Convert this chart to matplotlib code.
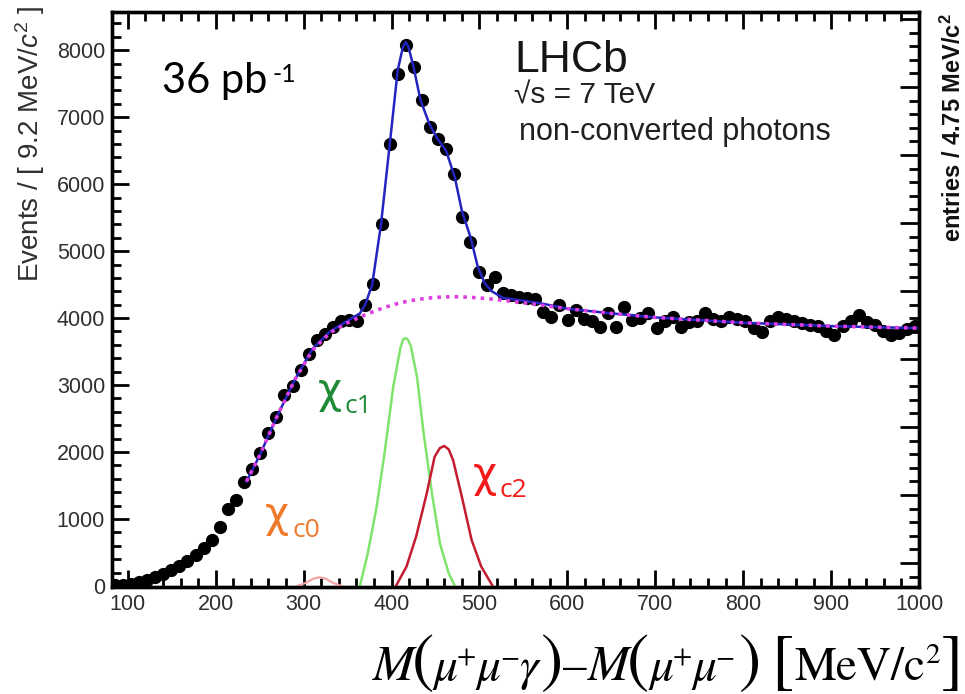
import matplotlib
matplotlib.use("Agg")
import matplotlib.pyplot as plt
from matplotlib.ticker import MultipleLocator, NullFormatter
from matplotlib.transforms import IdentityTransform

plt.rcParams['font.family'] = ['Liberation Sans', 'DejaVu Sans']
plt.rcParams['mathtext.fontset'] = 'custom'
plt.rcParams['mathtext.rm'] = 'Liberation Sans'
plt.rcParams['mathtext.it'] = 'Liberation Sans:italic'
plt.rcParams['mathtext.bf'] = 'Liberation Sans:bold'

# ---------------- data ----------------
bin_centers = [85.0, 94.2, 103.4, 112.6, 121.8, 131.0, 140.2, 149.4, 158.6, 167.8,
               177.0, 186.2, 195.4, 204.6, 213.8, 223.0, 232.2, 241.4, 250.6, 259.8,
               269.0, 278.2, 287.4, 296.6, 305.8, 315.0, 324.2, 333.4, 342.6, 351.8,
               361.0, 370.2, 379.4, 388.6, 397.8, 407.0, 416.2, 425.4, 434.6, 443.8,
               453.0, 462.2, 471.4, 480.6, 489.8, 499.0, 508.2, 517.4, 526.6, 535.8,
               545.0, 554.2, 563.4, 572.6, 581.8, 591.0, 600.2, 609.4, 618.6, 627.8,
               637.0, 646.2, 655.4, 664.6, 673.8, 683.0, 692.2, 701.4, 710.6, 719.8,
               729.0, 738.2, 747.4, 756.6, 765.8, 775.0, 784.2, 793.4, 802.6, 811.8,
               821.0, 830.2, 839.4, 848.6, 857.8, 867.0, 876.2, 885.4, 894.6, 903.8,
               913.0, 922.2, 931.4, 940.6, 949.8, 959.0, 968.2, 977.4, 986.6, 995.8]
events = [10, 20, 35, 60, 95, 135, 185, 240, 300, 375,
          460, 560, 690, 880, 1150, 1280, 1550, 1750, 1980, 2280,
          2530, 2850, 2980, 3230, 3470, 3680, 3760, 3870, 3950, 3970,
          3950, 4190, 4510, 5410, 6600, 7650, 8075, 7750, 7250, 6860,
          6680, 6530, 6150, 5510, 5140, 4690, 4500, 4610, 4370, 4340,
          4320, 4300, 4290, 4090, 4020, 4190, 3970, 4120, 3990, 3950,
          3870, 4070, 3870, 4170, 3970, 4000, 4070, 3850, 3950, 4020,
          3870, 3940, 3950, 4070, 3990, 3960, 4020, 3980, 3950, 3850,
          3790, 3960, 4020, 3980, 3950, 3920, 3900, 3880, 3800, 3750,
          3880, 3960, 4050, 3940, 3900, 3800, 3750, 3780, 3830, 3880]

total_x = [235, 250, 270, 290, 310, 330, 350, 364, 370, 378, 388, 398, 407, 413, 416,
           419, 425, 433, 443, 452, 462, 472, 480, 490, 498, 506, 514, 527, 545, 570,
           600, 650, 700, 750, 800, 850, 900, 950, 1000]
total_y = [1560, 1950, 2540, 3080, 3540, 3800, 3960, 4070, 4200, 4500, 5400, 6600, 7700, 8050, 8120,
           8060, 7750, 7250, 6900, 6680, 6500, 6100, 5600, 5200, 4770, 4520, 4400, 4300, 4270, 4220,
           4140, 4070, 4010, 3970, 3930, 3905, 3880, 3865, 3850]

bkg_x = [235, 250, 270, 290, 310, 330, 350, 370, 390, 410, 430, 450, 470, 490, 510,
         530, 560, 600, 650, 700, 750, 800, 850, 900, 950, 1000]
bkg_y = [1560, 1950, 2540, 3080, 3520, 3780, 3930, 4050, 4150, 4230, 4280, 4310, 4320, 4310, 4290,
         4260, 4210, 4140, 4070, 4010, 3970, 3930, 3905, 3880, 3865, 3850]

chic1_x = [364, 373, 383, 392, 402, 410, 413, 416, 419, 422, 429, 436, 446, 455, 465, 472]
chic1_y = [0, 490, 1180, 1980, 2980, 3550, 3680, 3700, 3670, 3580, 3120, 2330, 1380, 640, 190, 0]

chic2_x = [405, 417, 428, 440, 449, 455, 460, 465, 470, 480, 491, 502, 515]
chic2_y = [0, 290, 740, 1380, 1930, 2060, 2090, 2040, 1880, 1330, 690, 290, 0]

chic0_x = [293, 303, 311, 318, 325, 333, 343]
chic0_y = [0, 50, 110, 130, 110, 50, 0]

# ---------------- figure ----------------
W, H = 965, 694
fig = plt.figure(figsize=(W / 100, H / 100), dpi=100)
ax = fig.add_axes([112 / W, 1 - 587 / H, (919 - 112) / W, (587 - 12) / H])
ax.set_xlim(82, 1000)
ax.set_ylim(-15, 8570)

ax.plot(bin_centers, events, 'o', color='black', markersize=8.5, zorder=2)
ax.plot(chic0_x, chic0_y, color='#f2a3a3', lw=1.6, zorder=3)
ax.plot(chic1_x, chic1_y, color='#80e36c', lw=1.8, zorder=3)
ax.plot(chic2_x, chic2_y, color='#c41c30', lw=1.8, zorder=3)
ax.plot(total_x, total_y, color='#2424c0', lw=1.8, zorder=4)
ax.plot(bkg_x, bkg_y, color='#e040e0', lw=2.6, linestyle=(0, (1.0, 1.4)), zorder=5)

ax.xaxis.set_major_locator(MultipleLocator(100))
ax.xaxis.set_minor_locator(MultipleLocator(20))
ax.yaxis.set_major_locator(MultipleLocator(1000))
ax.yaxis.set_minor_locator(MultipleLocator(200))
ax.tick_params(which='both', direction='in', top=True, right=False, labelsize=15.5,
               labelcolor='#303030', width=2.0)
ax.tick_params(which='major', length=12)
ax.tick_params(which='minor', length=6.5)
ax.tick_params(axis='x', pad=5)
ax.tick_params(axis='y', pad=5)
for s in ax.spines.values():
    s.set_linewidth(2.4)

ax2 = ax.twinx()
ax2.set_ylim(-353, 8103)
ax2.yaxis.set_major_locator(MultipleLocator(1000))
ax2.yaxis.set_minor_locator(MultipleLocator(200))
ax2.yaxis.set_major_formatter(NullFormatter())
ax2.tick_params(which='both', direction='in', width=2.0, labelright=False)
ax2.tick_params(which='major', length=14)
ax2.tick_params(which='minor', length=7)
for s in ax2.spines.values():
    s.set_linewidth(2.4)

# axis titles
fig.text(30 / W, 1 - 144 / H, r'Events / [ 9.2 MeV/$c^{2}$ ]', rotation=90,
         ha='center', va='center', fontsize=20, color='#303030')
fig.text(953 / W, 1 - 128 / H, r'entries / 4.75 MeV/c$^{\mathbf{2}}$', rotation=90,
         ha='center', va='center', fontsize=17, fontweight='bold', color='#111111')

# x-axis title: laid out piece by piece (large delimiters, Times-like italics)
renderer = fig.canvas.get_renderer()
xl_pieces = [
    # (text, fontsize, italic, raise px, gap before px)
    ('M', 36, True, 0, 0),
    ('(', 48, False, 0, 0),
    ('\u03bc', 34, True, 0, 1),
    ('+', 20, False, 15, 0),
    ('\u03bc', 34, True, 0, 2),
    ('\u2212', 20, False, 15, 0),
    ('\u03b3', 34, True, 0, 2),
    (')', 48, False, 0, 3),
    ('\u2013', 34, False, 0, 2),
    ('M', 36, True, 0, 3),
    ('(', 48, False, 0, 0),
    ('\u03bc', 34, True, 0, 2),
    ('+', 20, False, 15, 0),
    ('\u03bc', 34, True, 0, 2),
    ('\u2212', 20, False, 15, 0),
    (')', 48, False, 0, 5),
    ('[', 48, False, 0, 14),
    ('MeV/c', 34, False, 0, 2),
    ('2', 21, False, 17, 9),
    (']', 48, False, 0, 3),
]
xl_texts = []
cursor = 0.0
for s, fs, it, rz, gap in xl_pieces:
    cursor += gap
    t = fig.text(cursor, (H - 680) + rz, s, fontsize=fs, transform=IdentityTransform(),
                 family=['STIXGeneral', 'DejaVu Serif'], style='italic' if it else 'normal',
                 ha='left', va='baseline', color='black')
    w = t.get_window_extent(renderer).width
    xl_texts.append((t, cursor))
    cursor += w
start = 373
scale = (962 - start) / cursor
for t, cx in xl_texts:
    x0, y0 = t.get_position()
    t.set_position((start + cx * scale, y0))

# annotations
fig.text(162 / W, 1 - 93 / H, '36 pb', fontsize=30, family=['Lato', 'DejaVu Sans'],
         ha='left', va='baseline')
fig.text(272 / W, 1 - 82 / H, '-1', fontsize=18, family=['Lato', 'DejaVu Sans'],
         ha='left', va='baseline')

fig.text(514 / W, 1 - 72 / H, 'LHCb', fontsize=32, ha='left', va='baseline', color='#151515')
fig.text(514 / W, 1 - 104 / H, '\u221as = 7 TeV', fontsize=21.5, ha='left', va='baseline', color='#202020')
fig.text(519 / W, 1 - 140 / H, 'non-converted photons', fontsize=22, ha='left', va='baseline', color='#202020')

subfam = ['Open Sans', 'Noto Sans', 'DejaVu Sans']
def chi_label(x, y, sub, color):
    fig.text(x / W, 1 - y / H, '\u03c7', fontsize=30, family=['DejaVu Sans'], color=color,
             ha='left', va='baseline')
    fig.text((x + 27) / W, 1 - (y + 10) / H, sub, fontsize=19, family=subfam, color=color,
             ha='left', va='baseline')

chi_label(318, 403, 'c1', '#1f8a35')
chi_label(265, 527, 'c0', '#ef7a2c')
chi_label(473, 487, 'c2', '#f51a1a')

fig.savefig('out.png', dpi=100, facecolor='white')
